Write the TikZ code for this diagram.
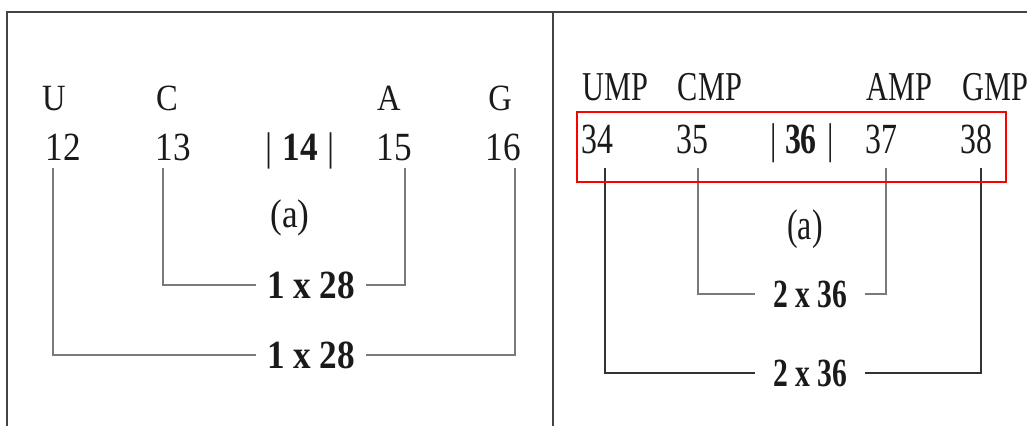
\documentclass[tikz,border=0pt]{standalone}
\usepackage{fontspec}
\newfontfamily\lfont[FakeStretch=0.88]{Liberation Serif}
\newfontfamily\rfont[FakeStretch=0.74]{Liberation Serif}
\definecolor{txt}{HTML}{1A1A1A}
\definecolor{lin}{HTML}{7A7A7A}
\definecolor{dlin}{HTML}{333333}
\definecolor{frm}{HTML}{444444}
\begin{document}
\begin{tikzpicture}[x=1pt,y=-1pt,
  ltxt/.style={anchor=base,inner sep=0pt,text=txt,font=\lfont\fontsize{37}{37}\selectfont},
  lnum/.style={anchor=base,inner sep=0pt,text=txt,font=\lfont\fontsize{40}{40}\selectfont},
  llab/.style={inner ysep=0pt,inner xsep=11pt,text=txt,font=\lfont\bfseries\fontsize{40}{40}\selectfont},
  rtxt/.style={anchor=base,inner sep=0pt,text=txt,font=\rfont\fontsize{41}{41}\selectfont},
  rnum/.style={anchor=base,inner sep=0pt,text=txt,font=\rfont\fontsize{43}{43}\selectfont},
  rlab/.style={inner ysep=0pt,inner xsep=18pt,text=txt,font=\rfont\bfseries\fontsize{40}{40}\selectfont},
  conn/.style={draw=lin,line width=1.5pt},
  dconn/.style={draw=dlin,line width=1.5pt},
  frame/.style={draw=frm,line width=1.6pt}]
\useasboundingbox (0,0) rectangle (1027,426);
% frame
\draw[frame] (7,426) -- (7,12) -- (1027,12);
\draw[frame] (553,12) -- (553,426);
% ---------- left panel ----------
\node[ltxt] (U) at (54,110) {U};
\node[ltxt] (C) at (167,110) {C};
\node[ltxt] (A) at (389,110) {A};
\node[ltxt] (G) at (500,110) {G};
\node[lnum] (n12) at (63,160) {12};
\node[lnum] (n13) at (173,160) {13};
\node[lnum] (n14) at (300,160) {|\hspace{0.25em}\textbf{14}\hspace{0.25em}|};
\node[lnum] (n15) at (394,160) {15};
\node[lnum] (n16) at (503,160) {16};
\node[lnum] (la) at (290,227) {(a)};
\node[llab] (L1) at (311,285) {1 x 28};
\node[llab] (L2) at (311,355) {1 x 28};
\coordinate (p12) at (53,168);
\coordinate (p13) at (163,168);
\coordinate (p15) at (405,168);
\coordinate (p16) at (515,168);
\draw[conn] (p13) |- (L1.west);
\draw[conn] (L1.east) -| (p15);
\draw[conn] (p12) |- (L2.west);
\draw[conn] (L2.east) -| (p16);
% ---------- right panel ----------
\node[rtxt] (UMP) at (615,100) {UMP};
\node[rtxt] (CMP) at (710,100) {CMP};
\node[rtxt] (AMP) at (899,100) {AMP};
\node[rtxt] (GMP) at (995,100) {GMP};
\node[rnum] (n34) at (597,153) {34};
\node[rnum] (n35) at (692,153) {35};
\node[rnum] (n36) at (802,153) {|\hspace{0.2em}\textbf{36}\hspace{0.25em}|};
\node[rnum] (n37) at (881,153) {37};
\node[rnum] (n38) at (976,153) {38};
\node[rnum] (ra) at (805,239) {(a)};
\node[rlab] (R1) at (810,294) {2 x 36};
\node[rlab] (R2) at (810,373) {2 x 36};
\coordinate (p34) at (605,168);
\coordinate (p35) at (698,168);
\coordinate (p37) at (886,168);
\coordinate (p38) at (981,168);
\draw[conn] (p35) |- (R1.west);
\draw[conn] (R1.east) -| (p37);
\draw[dconn] (p34) |- (R2.west);
\draw[dconn] (R2.east) -| (p38);
\node[draw=red,line width=2.5pt,inner sep=0pt,minimum width=429pt,minimum height=70pt] (box) at (791.5,147) {};
\end{tikzpicture}
\end{document}
